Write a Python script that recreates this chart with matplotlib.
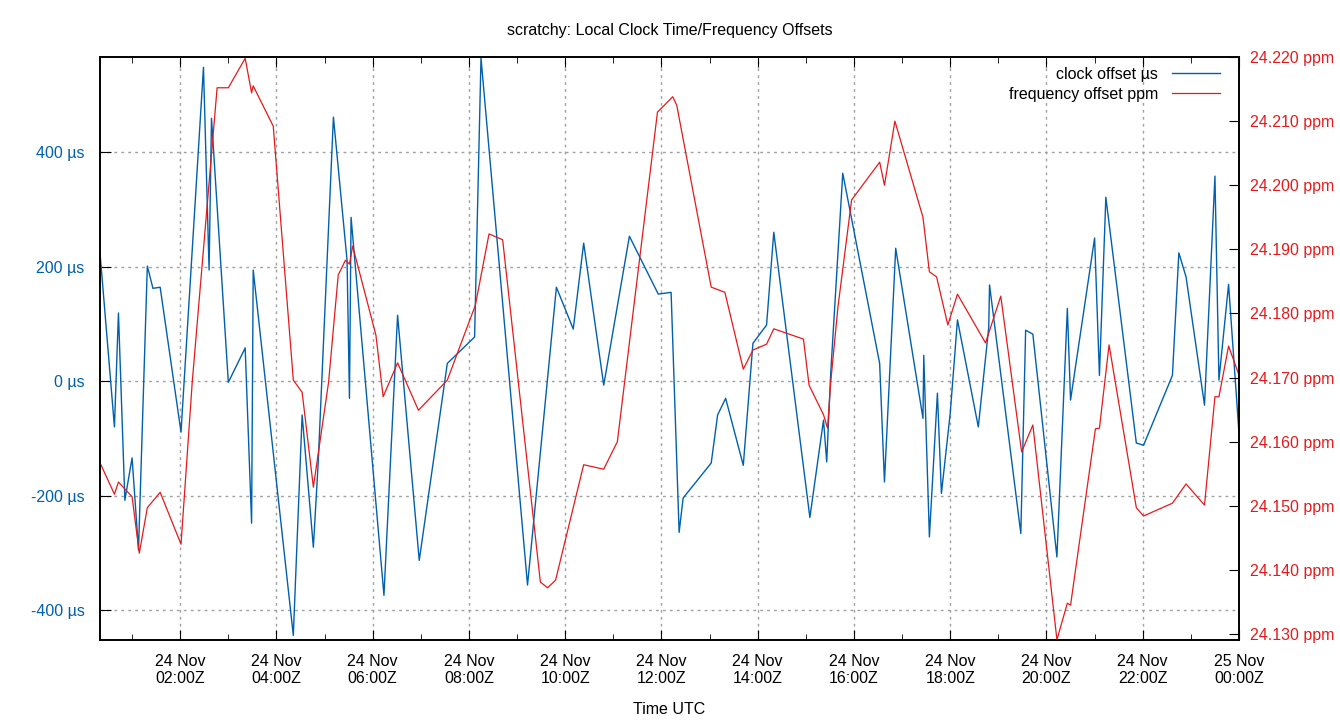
import numpy as np
import matplotlib
matplotlib.use("Agg")
import matplotlib.pyplot as plt
import matplotlib.dates as mdates

plt.rcParams['font.family'] = ['Liberation Sans', 'DejaVu Sans']
plt.rcParams['font.size'] = 11.5

day0 = np.datetime64('2023-11-24T00:00')

# clock offset, minutes after 24 Nov 00:00Z / microseconds
clk_min = [20, 38, 43, 51, 60, 68, 79, 86, 95, 121, 149, 156, 159, 180, 201, 209, 211,
           261, 272, 286, 292, 311, 328, 331, 333, 374, 391, 418, 453, 487, 495, 553,
           589, 610, 623, 648, 680, 716, 732, 742, 747, 782, 790, 800, 822, 834, 851,
           860, 905, 922, 926, 931, 946, 992, 998, 1012, 1046, 1047, 1054, 1064, 1069,
           1080, 1089, 1115, 1128, 1129, 1168, 1174, 1183, 1213, 1226, 1230, 1260, 1266,
           1274, 1312, 1321, 1357, 1365, 1374, 1397, 1410, 1415, 1427, 1440]
clk_us = [224, -80, 119, -208, -134, -295, 201, 162, 164, -89, 548, 194, 459, -2, 58, -248, 194,
          -444, -59, -290, -143, 461, 211, -30, 286, -374, 115, -313, 31, 77, 564, -356,
          164, 91, 241, -7, 253, 152, 155, -264, -204, -143, -59, -30, -147, 66, 98,
          260, -238, -68, -141, 14, 363, 31, -176, 232, -65, 45, -272, -21, -196,
          -56, 107, -80, 94, 168, -266, 89, 82, -307, 127, -33, 250, 10,
          321, -108, -112, 10, 224, 182, -42, 358, 2, 169, -91]

# frequency offset, minutes / ppm
frq_min = [20, 38, 43, 60, 69, 79, 95, 121, 135, 166, 180, 201, 209, 211, 236, 261, 272, 286,
           305, 317, 326, 331, 335, 364, 373, 391, 417, 453, 488, 505, 522, 569, 578, 588,
           623, 648, 665, 715, 734, 739, 782, 799, 822, 834, 851, 860, 897, 904, 922, 927,
           931, 940, 957, 992, 998, 1011, 1046, 1054, 1063, 1077, 1089, 1124, 1143, 1169,
           1183, 1213, 1226, 1230, 1261, 1266, 1278, 1312, 1321, 1357, 1374, 1397, 1410,
           1415, 1427, 1440]
frq_ppm = [24.1567, 24.1518, 24.1537, 24.1514, 24.1426, 24.1497, 24.1521, 24.1440, 24.1693,
           24.2152, 24.2152, 24.2198, 24.2144, 24.2155, 24.2092, 24.1696, 24.1677, 24.1529,
           24.1693, 24.1860, 24.1883, 24.1877, 24.1905, 24.1766, 24.1670, 24.1723, 24.1649,
           24.1696, 24.1813, 24.1924, 24.1915, 24.1381, 24.1372, 24.1384, 24.1564, 24.1557,
           24.1600, 24.2114, 24.2138, 24.2125, 24.1841, 24.1833, 24.1713, 24.1743, 24.1752,
           24.1776, 24.1760, 24.1688, 24.1642, 24.1621, 24.1693, 24.1810, 24.1977, 24.2036,
           24.2000, 24.2100, 24.1950, 24.1865, 24.1857, 24.1782, 24.1830, 24.1754, 24.1827,
           24.1584, 24.1626, 24.1291, 24.1348, 24.1345, 24.1620, 24.1621, 24.1751, 24.1497,
           24.1484, 24.1504, 24.1534, 24.1501, 24.1670, 24.1670, 24.1749, 24.1704]

clk_t = day0 + np.array(clk_min).astype('timedelta64[m]')
frq_t = day0 + np.array(frq_min).astype('timedelta64[m]')

blue = '#0060ad'
red = '#e41a1c'

fig = plt.figure(figsize=(13.4, 7.2), dpi=100)
ax = fig.add_axes([100/1340, 80/720, 1139/1340, 583/720])
ax2 = ax.twinx()

l1, = ax.plot(clk_t, clk_us, color=blue, lw=1.0, label='clock offset µs')
l2, = ax2.plot(frq_t, frq_ppm, color=red, lw=0.9, label='frequency offset ppm')

ax.set_xlim(clk_t[0], clk_t[-1])
ax.set_ylim(-452, 566)
ax2.set_ylim(24.12906, 24.2200)

ax.xaxis.set_major_locator(mdates.HourLocator(byhour=range(0, 24, 2)))
ax.xaxis.set_minor_locator(mdates.HourLocator(byhour=range(1, 24, 2)))
ax.xaxis.set_major_formatter(mdates.DateFormatter('%d %b\n%H:%MZ'))
ax.set_yticks([-400, -200, 0, 200, 400])
ax.set_yticklabels(['%d µs' % v for v in [-400, -200, 0, 200, 400]])
ax2.set_yticks(np.arange(24.13, 24.2201, 0.01))
ax2.set_yticklabels(['%.3f ppm' % v for v in np.arange(24.13, 24.2201, 0.01)])

ax.tick_params(axis='x', which='major', direction='in', length=7, top=True, pad=10)
ax.tick_params(axis='x', which='minor', direction='in', length=4, top=True)
ax.tick_params(axis='y', direction='in', length=8, labelcolor=blue, pad=11)
ax2.tick_params(axis='y', direction='in', length=7, labelcolor=red, pad=8)

ax.grid(True, which='major', color='#a0a0a0', linestyle=(0, (2, 3)), lw=1.0)
for a in (ax, ax2):
    for s in a.spines.values():
        s.set_linewidth(1.2)

ax.set_title('scratchy: Local Clock Time/Frequency Offsets', fontsize=11.5, pad=16)
ax.set_xlabel('Time UTC', labelpad=11)

ax2.legend(handles=[l1, l2], loc='upper right', bbox_to_anchor=(0.996, 1.008),
           markerfirst=False, frameon=False, handlelength=3.0, handletextpad=0.9,
           labelspacing=0.3, fontsize=11.5)

fig.savefig('out.png', dpi=100)
